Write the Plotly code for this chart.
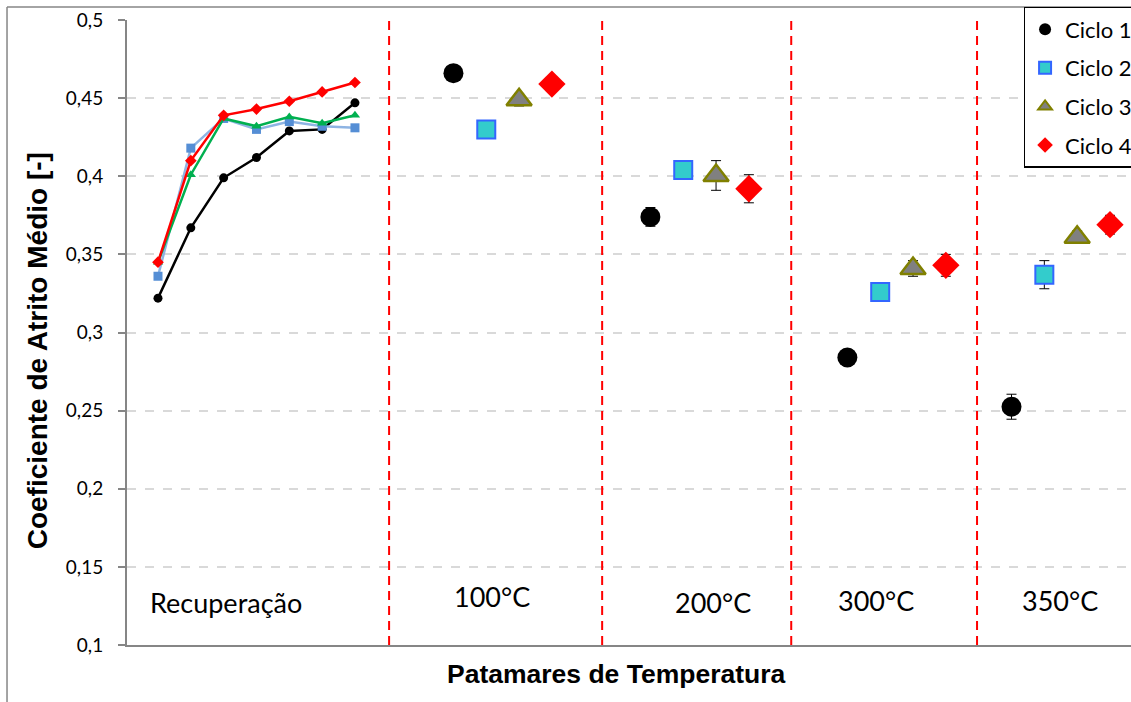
import plotly.graph_objects as go

# ---- data ----
rec_x = [1, 2, 3, 4, 5, 6, 7]
rec_c1 = [0.322, 0.367, 0.399, 0.412, 0.429, 0.430, 0.447]
rec_c2 = [0.336, 0.418, 0.437, 0.430, 0.435, 0.432, 0.431]
rec_c3 = [0.345, 0.401, 0.437, 0.432, 0.438, 0.434, 0.439]
rec_c4 = [0.345, 0.410, 0.439, 0.443, 0.448, 0.454, 0.460]

c1_x = [10, 16, 22, 27]
c2_x = [11, 17, 23, 28]
c3_x = [12, 18, 24, 29]
c4_x = [13, 19, 25, 30]
c1_y = [0.466, 0.374, 0.284, 0.2525]
c2_y = [0.430, 0.404, 0.326, 0.337]
c3_y = [0.449, 0.4005, 0.341, 0.361]
c4_y = [0.459, 0.392, 0.343, 0.369]
c1_err = [0.003, 0.006, 0.005, 0.008]
c2_err = [0.003, 0.003, 0.003, 0.009]
c3_err = [0.004, 0.0095, 0.005, 0.004]
c4_err = [0.003, 0.009, 0.007, 0.006]

separators_x = [8.04, 14.53, 20.29, 25.95]
group_labels = ["Recuperação", "100°C", "200°C", "300°C", "350°C"]
group_label_x = [3.08, 11.17, 17.9, 22.87, 28.49]
group_label_y = [0.127, 0.131, 0.1275, 0.1285, 0.1285]

y_ticks = [0.1, 0.15, 0.2, 0.25, 0.3, 0.35, 0.4, 0.45, 0.5]
y_ticktext = ["0,1", "0,15", "0,2", "0,25", "0,3", "0,35", "0,4", "0,45", "0,5"]

x_title = "Patamares de Temperatura"
y_title = "Coeficiente de Atrito Médio [-]"

fig = go.Figure()

# recovery lines
rec_styles = [
    (rec_c1, "black", "black", "circle"),
    (rec_c2, "#8EB4E3", "#558ED5", "square"),
    (rec_c3, "#00B050", "#00B050", "triangle-up"),
    (rec_c4, "#FF0000", "#FF0000", "diamond"),
]
for ys, lc, mc, sym in rec_styles:
    fig.add_trace(go.Scatter(
        x=rec_x, y=ys, mode="lines+markers",
        line=dict(color=lc, width=2.5),
        marker=dict(color=mc, symbol=sym, size=9),
        showlegend=False, hoverinfo="skip"))

err_style = dict(type="data", visible=True, color="black", thickness=1, width=5)

fig.add_trace(go.Scatter(
    x=c1_x, y=c1_y, mode="markers", name="Ciclo 1", legendgroup="g1",
    marker=dict(symbol="circle", size=20, color="black"),
    error_y=dict(array=c1_err, **err_style)))
fig.add_trace(go.Scatter(
    x=c2_x, y=c2_y, mode="markers", name="Ciclo 2", legendgroup="g2",
    marker=dict(symbol="square", size=18, color="#33CCCC",
                line=dict(color="#3366FF", width=2)),
    error_y=dict(array=c2_err, **err_style)))
fig.add_trace(go.Scatter(
    x=c3_x, y=c3_y, mode="markers", name="Ciclo 3", legendgroup="g3",
    marker=dict(symbol="triangle-up", size=22, color="#808080",
                line=dict(color="#808000", width=2.5)),
    error_y=dict(array=c3_err, **err_style)))
fig.add_trace(go.Scatter(
    x=c4_x, y=c4_y, mode="markers", name="Ciclo 4", legendgroup="g4",
    marker=dict(symbol="diamond", size=21, color="#FF0000"),
    error_y=dict(array=c4_err, **err_style)))

shapes = []
for sx in separators_x:
    shapes.append(dict(type="line", xref="x", yref="y", x0=sx, x1=sx,
                       y0=0.1, y1=0.508,
                       line=dict(color="#FF0000", width=2, dash="9px,6px")))
# outer chart border
shapes.append(dict(type="line", xref="paper", yref="paper",
                   x0=-0.1195, x1=-0.1195, y0=-0.2, y1=1.0208,
                   line=dict(color="#868686", width=1.5)))
shapes.append(dict(type="line", xref="paper", yref="paper",
                   x0=-0.1195, x1=1.1, y0=1.0208, y1=1.0208,
                   line=dict(color="#868686", width=1.5)))

annotations = []
for lbl, lx, ly in zip(group_labels, group_label_x, group_label_y):
    annotations.append(dict(x=lx, y=ly, xref="x", yref="y", text=lbl,
                            showarrow=False,
                            font=dict(family="Lato", size=27, color="black")))
annotations.append(dict(x=0.488, y=-0.0464, xref="paper", yref="paper",
                        xanchor="center", yanchor="middle", showarrow=False,
                        text="<b>" + x_title + "</b>",
                        font=dict(family="Liberation Sans, Arial", size=26.5, color="black")))
annotations.append(dict(x=-0.0896, y=0.47, xref="paper", yref="paper",
                        xanchor="center", yanchor="middle", showarrow=False,
                        textangle=-90,
                        text="<b>" + y_title + "</b>",
                        font=dict(family="Liberation Sans, Arial", size=28, color="black")))

fig.update_layout(
    width=1131, height=702,
    margin=dict(l=127, r=0, t=20, b=57, autoexpand=False),
    paper_bgcolor="white", plot_bgcolor="white",
    shapes=shapes, annotations=annotations,
    xaxis=dict(range=[0.056, 30.64], showticklabels=False, ticks="",
               showgrid=False, zeroline=False, showline=True,
               linecolor="#868686", linewidth=2),
    yaxis=dict(range=[0.1, 0.5], tickvals=y_ticks, ticktext=y_ticktext,
               ticks="outside", ticklen=7, tickcolor="#868686", tickwidth=1.5,
               ticklabelstandoff=11,
               showline=True, linecolor="#868686", linewidth=2,
               showgrid=True, gridcolor="#D9D9D9", gridwidth=1.5, griddash="dash",
               zeroline=False,
               tickfont=dict(family="Lato", size=19, color="black")),
    legend=dict(x=0.893, y=1.021, xanchor="left", yanchor="top",
                bgcolor="white", bordercolor="black", borderwidth=1.5,
                font=dict(family="Lato", size=22, color="black"),
                tracegroupgap=7, itemsizing="constant"),
    showlegend=True,
)

fig.write_html("out.html", config={"displayModeBar": False},
               post_script="document.body.style.margin='0px';")
